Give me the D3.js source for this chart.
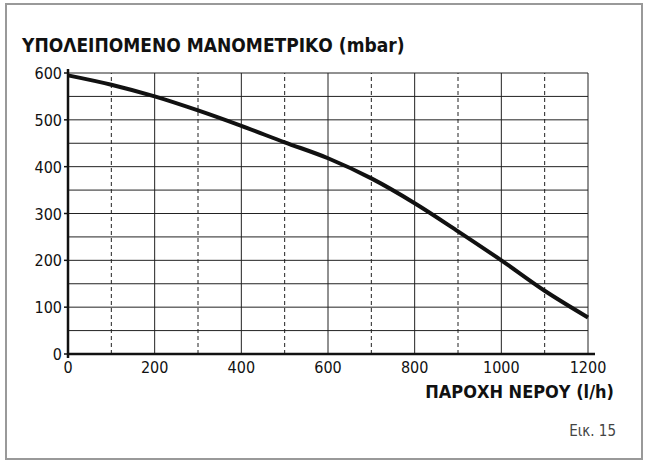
<!DOCTYPE html>
<html><head><meta charset="utf-8">
<script src="https://cdn.jsdelivr.net/npm/d3@7"></script>
<style>body{margin:0;background:#fff}text{font-family:"DejaVu Sans Condensed","DejaVu Sans",sans-serif}</style>
</head><body>
<script>
// flow (l/h) vs residual head (mbar)
var flow = [0, 100, 200, 300, 400, 500, 600, 700, 800, 900, 1000, 1100, 1200];
var head = [595, 575, 550, 520, 487, 452, 418, 375, 322, 262, 200, 135, 78];
var xTicks = [0, 200, 400, 600, 800, 1000, 1200];
var yTicks = [0, 100, 200, 300, 400, 500, 600];

var W = 648, H = 465;
var svg = d3.select("body").append("svg").attr("width", W).attr("height", H);

// frame
svg.append("rect").attr("x", 6).attr("y", 4).attr("width", 636).attr("height", 455)
  .attr("fill", "none").attr("stroke", "#999").attr("stroke-width", 2);

var x = d3.scaleLinear().domain([0, 1200]).range([68, 588]);
var y = d3.scaleLinear().domain([0, 600]).range([354, 73]);

// horizontal grid every 50
svg.selectAll(".hg").data(d3.range(50, 601, 50)).enter().append("line")
  .attr("x1", x(0)).attr("x2", x(1200)).attr("y1", d => y(d)).attr("y2", d => y(d))
  .attr("stroke", "#222").attr("stroke-width", 1);

// vertical grid, dashed at odd hundreds
svg.selectAll(".vg").data(d3.range(100, 1201, 100)).enter().append("line")
  .attr("x1", d => x(d)).attr("x2", d => x(d)).attr("y1", y(0)).attr("y2", y(600))
  .attr("stroke", "#222").attr("stroke-width", 1)
  .attr("stroke-dasharray", d => d % 200 ? "4,3" : null);

// axes
svg.append("line").attr("x1", x(0)).attr("x2", x(1200) + 7).attr("y1", y(0)).attr("y2", y(0))
  .attr("stroke", "#111").attr("stroke-width", 2.5);
svg.append("line").attr("x1", x(0)).attr("x2", x(0)).attr("y1", y(0) + 4).attr("y2", y(600) - 4)
  .attr("stroke", "#111").attr("stroke-width", 2.5);
svg.selectAll(".yt").data(yTicks).enter().append("line")
  .attr("x1", x(0) - 4).attr("x2", x(0)).attr("y1", d => y(d)).attr("y2", d => y(d))
  .attr("stroke", "#111").attr("stroke-width", 1.5);

svg.selectAll(".yl").data(yTicks).enter().append("text")
  .attr("x", x(0) - 6).attr("y", d => y(d) + 6).attr("text-anchor", "end")
  .attr("font-size", 16).attr("fill", "#111").text(d => d);
svg.selectAll(".xl").data(xTicks).enter().append("text")
  .attr("x", d => x(d)).attr("y", y(0) + 19).attr("text-anchor", "middle")
  .attr("font-size", 16).attr("fill", "#111").text(d => d);

// curve
svg.append("path").datum(flow.map((f, i) => [f, head[i]]))
  .attr("d", d3.line().x(d => x(d[0])).y(d => y(d[1])).curve(d3.curveMonotoneX))
  .attr("fill", "none").attr("stroke", "#111").attr("stroke-width", 4);

// titles
svg.append("text").attr("x", 22).attr("y", 52).attr("font-size", 19).attr("font-weight", "bold")
  .attr("fill", "#111").text("ΥΠΟΛΕΙΠΟΜΕΝΟ ΜΑΝΟΜΕΤΡΙΚΟ (mbar)");
svg.append("text").attr("x", 614).attr("y", 398).attr("text-anchor", "end").attr("font-size", 18)
  .attr("font-weight", "bold").attr("fill", "#111").text("ΠΑΡΟΧΗ ΝΕΡΟΥ (l/h)");
svg.append("text").attr("x", 616).attr("y", 436).attr("text-anchor", "end").attr("font-size", 15)
  .attr("fill", "#444").text("Εικ. 15");
</script>
</body></html>
